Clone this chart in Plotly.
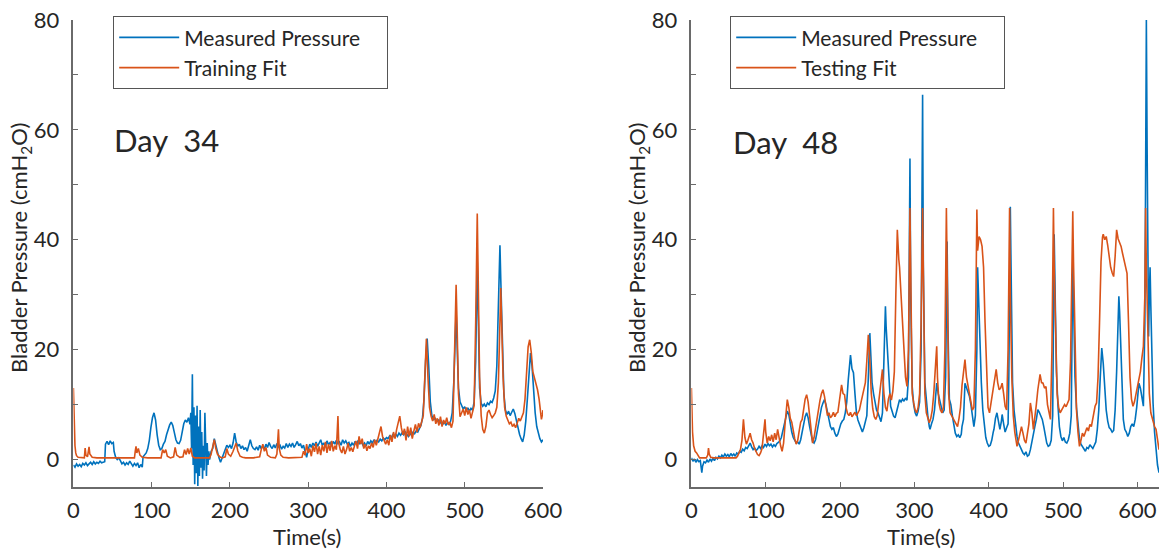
import plotly.graph_objects as go

# ---------------- Day 34 (training) ----------------
d34_meas_t = [0,2,4,6,8,10,12,14,16,18,20,22,24,26,28,30,32,34,36,38,40,41,43,45,47,49,51,52,54,56,58,60,62,64,66,68,70,72,74,76,78,80,82,84,86,88,89,91,93,95,97,99,101,103,105,107,109,111,113,115,117,119,121,123,125,127,129,131,133,135,137,139,141,143,145,147,149,150,151,152,153,154,155,156,157,158,159,160,161,162,163,164,165,166,167,168,169,170,171,172,173,174,176,178,180,182,184,186,188,190,192,194,196,198,200,202,204,206,208,210,212,214,216,218,220,222,224,226,228,230,232,234,236,238,240,242,244,246,248,250,252,254,256,258,260,262,264,266,268,270,272,274,276,278,280,282,284,286,288,290,292,294,296,298,300,302,304,306,308,310,312,314,316,318,320,322,324,326,328,330,332,334,336,338,340,342,344,346,348,350,352,354,356,358,360,362,364,366,368,370,372,374,376,378,380,382,384,386,388,390,392,394,396,398,400,402,404,406,408,410,412,414,416,418,420,422,424,426,428,430,432,434,436,438,440,442,444,446,448,450,452,454,456,458,460,462,464,466,468,470,472,474,476,478,480,482,484,486,488,489,490,492,494,496,498,500,502,504,506,508,510,512,514,516,517,519,521,523,525,527,529,531,533,535,537,539,541,543,545,546,548,550,552,554,556,558,560,562,564,566,568,570,572,574,576,578,580,582,584,586,588,590,592,594,596,598,600]
d34_meas_v = [-1.0,-1.4,-0.8,-1.2,-0.9,-1.3,-0.7,-1.0,-0.6,-1.1,-0.8,-0.5,-0.9,-0.4,-0.8,-0.5,-0.7,-0.3,-0.6,-0.5,-0.4,2.8,3.3,2.7,3.4,2.9,3.1,1.5,0.4,0.0,0.3,-0.2,-0.8,-0.5,-1.0,-0.6,-0.9,-0.3,-0.8,-1.2,-0.7,-1.1,-0.6,-1.5,-0.9,-1.4,0.5,0.8,1.2,2.0,3.5,5.8,7.6,8.5,7.2,4.5,2.6,1.8,2.0,2.8,3.3,4.5,5.6,6.3,6.8,6.2,4.9,3.6,3.0,2.9,3.5,5.0,6.5,7.2,6.8,7.6,6.4,8.5,2.0,15.5,-1.0,9.5,-4.5,8.0,-2.5,9.8,-4.8,6.0,-3.0,9.0,-1.5,5.0,-3.5,2.5,-2.0,8.5,0.5,-3.0,3.0,-1.0,1.5,0.0,1.5,2.0,3.8,2.5,1.2,0.3,-0.5,0.2,1.0,1.8,2.6,2.2,2.6,2.0,3.0,4.8,3.2,2.4,2.8,2.0,2.5,1.8,2.2,1.5,2.8,3.6,2.5,2.0,1.8,2.3,1.7,2.6,2.0,2.5,1.9,2.8,2.2,3.1,2.4,2.0,2.7,2.1,2.9,2.3,2.6,1.9,2.4,2.1,2.9,2.2,2.8,2.4,3.0,2.2,2.7,3.3,2.5,2.9,2.1,2.6,1.5,0.4,1.8,2.8,2.2,3.0,2.5,3.2,2.4,2.9,3.6,2.6,3.0,2.3,3.4,2.7,3.1,2.5,3.3,2.8,3.5,2.9,3.2,2.6,3.6,3.0,3.4,2.8,3.1,2.4,3.0,2.6,3.3,2.7,3.5,2.9,3.2,2.6,3.0,2.5,3.3,2.8,3.4,3.0,3.6,3.1,3.5,3.2,3.7,3.4,3.9,3.6,4.0,3.8,4.3,3.9,4.5,4.1,4.6,4.2,4.8,4.4,4.9,4.5,5.0,4.6,4.2,4.8,4.4,5.0,4.7,5.2,5.0,5.6,6.2,7.5,11.0,18.0,22.0,17.0,10.5,8.0,7.2,7.6,6.8,7.3,6.5,7.1,6.4,6.9,6.2,6.8,6.4,7.0,8.5,14.0,24.0,27.0,22.0,13.0,10.5,9.7,9.2,9.6,8.9,9.4,8.8,9.3,9.0,10.5,18.0,36.0,25.0,13.0,10.2,9.7,10.1,9.6,10.3,10.0,10.6,10.4,11.2,12.5,17.0,30.0,39.0,33.0,20.0,12.0,9.0,8.2,8.8,8.0,8.6,9.2,8.4,7.0,5.5,4.6,3.8,3.2,4.5,7.0,11.0,16.0,19.4,17.0,12.0,8.5,6.0,4.8,3.8,3.2,3.6]

d34_fit_t = [0,0.5,1,2,3,4,6,10,14,15,16,18,20,21,24,30,40,50,60,70,78,79,80,81,83,85,88,95,105,112,114,116,118,120,124,128,130,132,136,140,142,144,146,148,150,152,155,165,174,176,178,180,182,184,187,190,194,196,198,201,204,206,208,210,213,216,220,230,238,240,242,244,246,248,252,258,260,262,263,265,268,275,285,292,294,296,298,300,302,304,306,308,310,312,314,316,318,320,322,324,326,328,330,332,334,336,338,339,341,343,345,347,349,351,353,355,357,359,361,363,365,367,369,371,373,375,377,379,381,383,385,387,389,391,393,395,397,399,401,403,405,407,409,411,413,415,417,419,421,423,425,427,429,431,433,435,437,439,441,443,445,447,449,451,453,455,457,459,461,463,465,467,469,471,473,475,477,479,481,483,485,487,489,490,492,494,496,498,500,502,504,506,508,510,512,514,516,517,519,521,523,525,527,529,531,533,535,537,539,541,543,545,546,547,549,551,553,555,557,559,561,563,565,567,569,571,573,575,577,579,581,583,585,587,589,591,593,595,597,598,599,600]
d34_fit_v = [13.0,9.0,5.5,2.5,1.2,0.7,0.4,0.3,0.3,2.1,0.8,0.5,2.3,1.0,0.4,0.3,0.3,0.3,0.3,0.3,0.3,1.5,2.4,1.2,2.0,0.8,0.4,0.3,0.3,0.3,1.8,1.2,1.8,0.6,0.3,0.5,2.2,0.8,0.4,0.5,1.8,0.9,2.0,1.0,2.1,0.6,0.3,0.3,0.3,1.0,2.5,3.6,2.0,1.0,0.5,0.3,0.5,2.0,1.0,0.6,1.5,2.5,3.0,1.6,0.6,0.4,0.3,0.3,0.5,1.8,2.8,1.5,2.2,0.8,0.4,0.3,1.0,5.5,2.0,0.8,0.4,0.3,0.3,0.4,1.5,0.8,2.8,1.2,2.0,0.6,2.5,1.4,3.0,1.0,2.4,0.8,2.6,1.5,3.2,1.2,2.8,1.6,3.4,1.5,2.5,1.8,7.9,3.0,1.8,1.2,2.4,1.0,1.8,3.0,1.5,2.2,1.4,2.5,3.4,2.0,4.2,2.8,3.8,2.0,2.8,1.6,2.5,2.0,3.0,2.2,3.6,2.6,3.8,4.8,6.0,4.2,3.5,2.8,3.6,2.6,4.5,3.2,5.0,3.8,5.5,6.5,7.9,5.8,4.5,5.6,3.5,6.0,4.2,5.8,3.8,5.2,6.4,5.0,6.6,5.8,6.8,8.0,15.0,22.0,15.0,9.5,7.9,7.0,8.2,6.5,7.5,6.2,7.8,6.0,7.2,6.5,7.6,6.3,6.8,5.8,7.0,18.0,31.8,26.0,12.0,7.8,8.5,9.2,8.0,9.5,8.2,9.0,7.5,8.6,9.8,25.0,44.8,35.0,15.0,8.0,5.5,4.8,6.0,8.5,9.0,8.2,7.6,8.0,8.5,9.5,14.0,25.0,31.2,26.0,15.0,9.5,7.9,7.2,6.5,6.8,6.0,6.4,5.8,6.6,7.5,7.0,8.0,8.5,11.0,16.0,20.5,21.8,19.5,16.0,15.0,13.5,12.7,11.0,8.5,7.3,8.0,9.0]

# ---------------- Day 48 (testing) ----------------
d48_meas_t = [0,2,4,6,8,10,12,13,14,15,17,19,21,23,25,27,29,31,33,35,37,39,41,43,45,47,49,51,53,55,57,59,61,63,65,67,69,71,73,75,77,79,81,83,85,87,89,91,93,95,97,99,101,103,105,107,109,111,113,115,117,119,121,123,125,127,129,131,133,135,137,139,141,143,145,147,149,151,153,155,157,159,161,163,165,167,169,171,173,175,177,179,181,183,185,187,189,191,193,195,197,199,201,203,205,207,209,211,213,214,216,218,220,222,224,226,228,230,232,234,236,238,240,241,243,245,247,249,251,253,255,257,259,261,262,264,266,268,270,272,274,276,278,280,282,284,286,288,290,292,294,295,297,299,301,303,305,307,309,311,312,314,316,318,320,321,323,325,327,329,330,332,334,336,338,340,342,344,345,347,349,351,353,355,357,359,361,363,364,366,368,370,372,374,376,378,380,382,384,385,386,388,390,392,394,396,398,400,402,404,406,407,409,411,413,415,417,418,420,422,424,426,427,429,430,432,434,436,438,440,442,444,446,448,450,452,454,456,458,460,462,464,466,468,470,472,474,476,478,480,482,484,486,488,489,491,493,495,497,499,501,503,505,507,509,511,513,514,516,518,520,522,524,526,528,530,532,534,536,538,540,542,544,546,548,550,552,554,556,558,560,562,564,566,568,570,572,574,575,576,578,580,581,583,585,587,589,591,593,595,597,599,601,602,604,606,608,610,612,613,614,615,616,617,618,619,621,623,625,627,629]
d48_meas_v = [0.3,-0.3,0.1,-0.5,0.0,-0.4,-0.2,-1.0,-2.4,-1.2,-0.4,-0.6,-0.1,-0.5,0.1,-0.3,0.2,-0.2,0.4,0.1,0.6,0.3,0.8,0.5,1.0,0.6,0.9,0.5,1.1,0.7,1.0,0.6,1.2,1.0,1.5,1.3,1.9,1.6,2.2,2.0,2.6,3.0,2.3,1.8,2.1,1.6,1.9,2.4,2.0,2.5,2.2,2.8,2.4,2.9,2.5,2.8,2.3,2.7,2.4,2.9,3.1,3.4,4.0,5.2,6.8,8.0,8.8,8.2,6.5,5.0,4.0,3.4,3.0,3.2,2.8,3.6,5.0,6.5,7.8,8.5,7.6,6.0,4.4,3.3,3.0,3.6,5.0,6.8,8.2,9.5,10.3,10.9,10.0,8.6,7.2,6.0,5.5,5.8,4.8,4.2,4.6,5.8,6.5,7.0,7.3,8.5,10.5,14.5,18.0,19.0,16.5,15.8,12.0,8.5,7.2,6.4,5.5,5.0,5.8,6.7,8.0,15.0,23.0,20.0,14.0,12.0,10.5,9.0,8.5,7.8,6.9,8.5,18.0,27.9,24.0,19.4,13.0,9.7,8.8,7.9,7.6,8.5,9.8,10.9,10.5,11.0,10.6,11.2,10.8,15.0,54.8,30.0,13.3,10.0,8.5,7.9,8.8,10.5,20.0,66.4,35.0,14.0,10.3,8.0,6.0,5.5,6.5,7.3,9.0,12.5,13.9,12.0,10.6,9.5,8.5,9.0,15.0,39.7,25.0,11.0,10.0,8.0,6.0,4.8,4.2,4.5,4.0,4.6,6.0,7.3,13.9,13.0,12.2,11.5,10.0,7.5,6.0,8.0,20.0,35.0,30.0,24.0,14.0,9.0,6.0,4.0,3.0,2.4,2.6,3.5,5.0,5.5,7.5,8.5,7.0,5.5,7.0,8.2,6.5,5.0,5.8,6.5,15.0,46.0,35.0,14.0,9.0,6.0,4.2,3.0,2.4,1.6,1.2,0.9,1.4,0.6,0.8,1.8,3.0,4.6,6.0,7.3,9.1,8.6,7.8,7.3,6.0,4.5,3.0,2.4,2.6,3.5,8.0,41.0,30.0,16.0,10.0,6.0,4.2,3.4,4.0,3.2,3.0,3.6,4.8,8.0,36.4,30.0,15.0,9.5,6.0,3.8,2.8,2.3,1.8,1.5,2.2,2.0,2.7,2.4,2.0,2.6,3.2,5.5,9.0,15.0,20.3,17.5,12.0,9.0,7.0,5.8,5.5,5.0,5.3,9.0,16.0,24.0,29.7,27.0,19.0,10.0,7.3,5.5,5.0,4.2,4.8,6.0,6.5,6.0,7.3,9.5,12.5,13.9,13.0,11.5,9.7,25.0,80.0,57.0,45.0,22.4,30.0,35.0,28.0,20.0,10.3,5.0,1.2,-1.0,-2.4]

d48_fit_t = [0,0.5,1.5,3,5,7,9,11,15,20,22,23,24,26,30,40,50,60,62,64,66,68,70,72,74,76,78,79,81,83,85,87,89,91,93,95,97,99,100,102,104,106,108,110,112,114,116,118,120,122,124,126,128,129,131,133,135,137,139,141,143,145,147,149,151,153,155,157,159,161,163,165,167,169,171,173,175,177,179,181,183,185,187,189,191,193,195,197,199,201,202,204,206,208,210,212,214,216,218,220,222,224,226,228,230,232,234,236,238,240,242,244,246,248,250,252,254,256,257,259,261,263,265,267,269,271,273,275,277,279,280,282,284,286,288,290,292,294,295,297,299,301,303,305,307,309,311,312,314,316,318,320,322,324,326,328,330,331,333,335,337,339,341,343,344,346,348,350,352,354,356,358,360,362,364,366,368,370,372,374,376,378,380,382,384,385,387,389,391,393,395,397,399,401,403,405,407,409,410,412,414,416,418,420,422,424,426,428,429,431,433,435,437,438,440,442,444,446,448,450,452,454,456,458,460,462,464,466,468,469,471,473,475,477,479,481,483,485,487,488,490,492,494,496,498,500,502,504,506,508,510,513,514,516,518,520,522,524,526,528,530,532,534,536,538,540,542,543,545,547,549,551,553,554,556,558,560,562,564,566,568,570,572,574,576,578,580,582,584,586,588,590,592,594,596,598,600,602,604,606,608,610,611,612,614,616,618,621,623,625,627,629]
d48_fit_v = [13.0,9.0,5.0,2.5,1.5,1.2,0.6,0.3,0.3,0.3,0.8,2.1,1.0,0.4,0.3,0.3,0.3,0.3,0.6,1.2,1.8,3.5,7.3,4.0,2.8,3.5,4.2,4.8,3.6,3.0,2.0,1.4,0.9,0.7,1.2,2.0,4.5,7.3,5.0,3.0,4.2,3.4,4.5,3.2,4.8,3.6,5.5,3.8,2.5,1.5,3.0,6.5,9.8,10.9,9.5,7.5,6.8,5.0,3.8,2.8,3.5,5.2,6.8,7.3,9.5,11.0,11.8,10.5,8.0,5.5,3.0,4.0,5.8,7.3,9.0,10.8,12.0,12.7,11.5,9.4,8.0,8.5,7.6,7.9,8.6,7.8,8.4,8.6,11.0,13.0,13.6,12.0,11.8,9.5,8.4,8.0,8.6,7.8,8.2,8.6,8.0,8.5,9.0,10.3,11.5,12.5,14.0,18.0,22.7,18.0,12.0,9.2,7.8,7.3,8.0,10.5,13.0,15.5,16.4,12.0,9.5,8.8,11.0,12.0,10.8,12.5,16.0,30.0,41.8,36.4,35.0,30.0,25.5,20.0,15.0,13.3,20.0,45.8,30.0,12.0,10.3,9.0,8.5,9.5,12.0,25.0,45.8,30.0,12.0,8.5,7.5,6.7,7.5,9.0,12.0,16.0,20.6,15.0,10.3,9.0,8.5,9.5,20.0,45.8,30.0,12.0,8.5,8.0,7.6,7.0,6.5,6.0,7.5,9.5,13.5,16.5,18.2,15.0,13.3,12.0,10.5,9.0,9.5,20.0,45.5,38.0,40.6,40.0,38.8,35.0,25.0,15.0,9.5,8.5,10.3,12.0,14.0,16.0,16.4,14.0,12.7,13.0,13.9,12.0,9.7,9.0,20.0,45.8,30.0,15.0,8.0,5.0,3.0,2.4,3.5,5.0,6.0,4.8,3.5,3.0,4.5,6.5,10.3,8.5,5.5,7.5,10.0,12.7,14.5,15.5,14.0,13.9,13.0,13.3,10.0,8.5,7.3,20.0,45.8,35.0,20.0,12.0,9.5,8.5,9.0,9.4,10.0,9.6,10.3,10.9,18.0,45.2,36.0,20.0,9.0,5.0,2.4,3.5,4.8,4.2,5.0,5.8,5.2,6.4,6.0,7.3,9.0,9.7,10.3,15.0,25.0,36.0,40.5,41.0,40.0,40.6,39.0,36.4,35.0,34.0,33.3,37.0,41.8,40.2,39.4,38.8,37.5,36.4,35.0,33.9,25.0,15.0,11.0,9.7,10.5,12.0,13.5,14.5,16.0,18.5,20.6,30.0,45.8,35.0,20.0,12.0,8.5,6.7,6.0,5.5,3.5,1.8]

x_tickvals = [0, 100, 200, 300, 400, 500, 600]
x_ticktext = ["0", "100", "200", "300", "400", "500", "600"]
y_tickvals = [0, 20, 40, 60, 80]
y_ticktext = ["0", "20", "40", "60", "80"]

BLUE = "#0072BD"
ORANGE = "#D95319"
AXC = "#6a6a6a"
TXT = "#262626"
FONT = "Lato"
PAD = "\u00a0\u00a0\u00a0\u00a0"

W, H = 1159, 549

def px(x):
    return x / W

def py(y):
    return (H - y) / H

fig = go.Figure()
fig.add_trace(go.Scatter(x=d34_meas_t, y=d34_meas_v, mode="lines", name="Measured Pressure" + PAD,
                         line=dict(color=BLUE, width=1.6), xaxis="x", yaxis="y", legend="legend"))
fig.add_trace(go.Scatter(x=d34_fit_t, y=d34_fit_v, mode="lines", name="Training Fit",
                         line=dict(color=ORANGE, width=1.6), xaxis="x", yaxis="y", legend="legend"))
fig.add_trace(go.Scatter(x=d48_meas_t, y=d48_meas_v, mode="lines", name="Measured Pressure" + PAD,
                         line=dict(color=BLUE, width=1.6), xaxis="x2", yaxis="y2", legend="legend2"))
fig.add_trace(go.Scatter(x=d48_fit_t, y=d48_fit_v, mode="lines", name="Testing Fit",
                         line=dict(color=ORANGE, width=1.6), xaxis="x2", yaxis="y2", legend="legend2"))

ydom = [py(487), py(20)]

def xax(dom, rng):
    return dict(domain=dom, range=rng, tickvals=x_tickvals, ticktext=x_ticktext,
                showline=True, linecolor=AXC, linewidth=1.5, ticks="inside", ticklen=5,
                tickcolor=AXC, tickwidth=1.2, showgrid=False, zeroline=False,
                tickfont=dict(family=FONT, size=22, color=TXT), ticklabelstandoff=3,
                ticklabeloverflow="allow", automargin=False)

def yax(anchor):
    return dict(domain=ydom, range=[-5, 80], tickvals=y_tickvals, ticktext=y_ticktext,
                showline=True, linecolor=AXC, linewidth=1.5, ticks="inside", ticklen=5,
                tickcolor=AXC, tickwidth=1.2, showgrid=False, zeroline=False, anchor=anchor,
                minor=dict(dtick=10, tick0=0, ticks="inside", ticklen=5, tickcolor=AXC,
                           tickwidth=1.2, showgrid=False),
                tickfont=dict(family=FONT, size=22, color=TXT), ticklabelstandoff=8,
                ticklabeloverflow="allow", automargin=False)

fig.update_layout(
    width=W, height=H,
    margin=dict(l=0, r=0, t=0, b=0),
    paper_bgcolor="white", plot_bgcolor="white",
    font=dict(family=FONT, color=TXT),
    xaxis=dict(xax([px(73.4), px(543)], [0, 600]), anchor="y"),
    yaxis=yax("x"),
    xaxis2=dict(xax([px(691.4), 1.0], [0, 629]), anchor="y2"),
    yaxis2=yax("x2"),
    legend=dict(x=px(113), y=py(16), xanchor="left", yanchor="top", bgcolor="white",
                bordercolor="#555555", borderwidth=1.2, font=dict(family=FONT, size=21, color=TXT),
                itemwidth=60, tracegroupgap=0),
    legend2=dict(x=px(730), y=py(16), xanchor="left", yanchor="top", bgcolor="white",
                 bordercolor="#555555", borderwidth=1.2, font=dict(family=FONT, size=21, color=TXT),
                 itemwidth=60, tracegroupgap=0),
    showlegend=True,
)

ann = [
    dict(text="Day  34", x=px(112), y=py(140), xanchor="left", yanchor="middle", font=dict(size=31)),
    dict(text="Day  48", x=px(731), y=py(142), xanchor="left", yanchor="middle", font=dict(size=31)),
    dict(text="Bladder Pressure (cmH<sub>2</sub>O)", x=px(20), y=py(248), textangle=-90,
         xanchor="center", yanchor="middle", font=dict(size=22)),
    dict(text="Bladder Pressure (cmH<sub>2</sub>O)", x=px(638), y=py(248), textangle=-90,
         xanchor="center", yanchor="middle", font=dict(size=22)),
    dict(text="Time(s)", x=px(307), y=py(536), xanchor="center", yanchor="middle", font=dict(size=22)),
    dict(text="Time(s)", x=px(921), y=py(536), xanchor="center", yanchor="middle", font=dict(size=22)),
]
for a in ann:
    a.update(xref="paper", yref="paper", showarrow=False)
    a["font"].update(family=FONT, color=TXT)
fig.update_layout(annotations=ann)

fig.write_html("out.html", config={"displayModeBar": False},
               post_script="document.body.style.margin='0';document.body.style.overflow='hidden';")
